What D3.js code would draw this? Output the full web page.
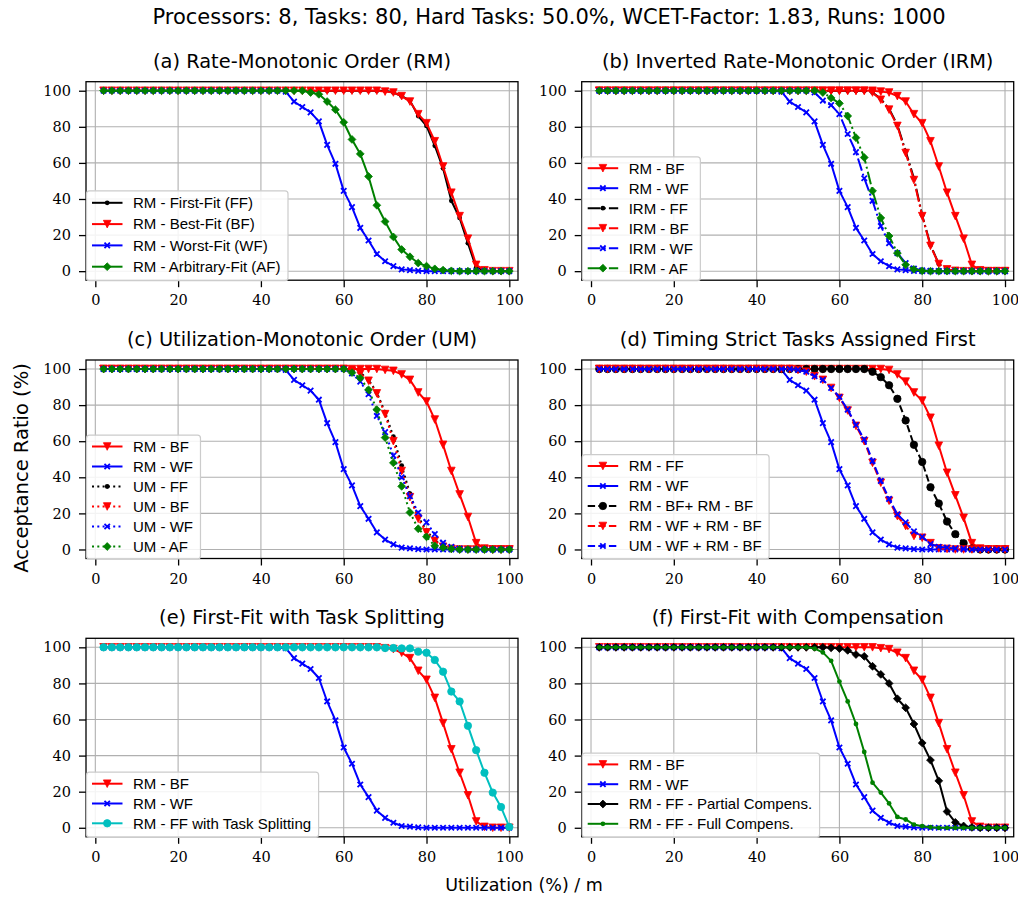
<!DOCTYPE html>
<html><head><meta charset="utf-8">
<script src="https://cdn.jsdelivr.net/npm/d3@7"></script>
<style>body{margin:0;background:#fff}svg{display:block}</style>
</head><body><div id="chart"></div>
<script>
// ---------- DATA ----------
const xs = [2,4,6,8,10,12,14,16,18,20,22,24,26,28,30,32,34,36,38,40,42,44,46,48,50,52,54,56,58,60,62,64,66,68,70,72,74,76,78,80,82,84,86,88,90,92,94,96,98,100];
const xTicks = [0,20,40,60,80,100];
const yTicks = [0,20,40,60,80,100];

const rmFF = [100,100,100,100,100,100,100,100,100,100, 100,100,100,100,100,100,100,100,100,100, 100,100,100,100,100,100,100,100,100,100, 100,100,100,100,100,99,97,94.5,86,80.5, 69.5,57,39,29.5,15.5,2,0.5,0,0,0];
const rmBF = [100,100,100,100,100,100,100,100,100,100, 100,100,100,100,100,100,100,100,100,100, 100,100,100,100,100,100,100,100,100,100, 100,100,100,100,99.5,99,97,94,87,82, 72,58,43.5,30.5,18,3.5,0.5,0,0,0];
const rmWF = [100,100,100,100,100,100,100,100,100,100, 100,100,100,100,100,100,100,100,100,100, 100,100,99.5,94,91,88,83,70,59.5,44.5, 35.5,24,17,9.5,5.5,2.8,1,0.6,0.2,0, 0,0,0,0,0,0,0,0,0,0];
const rmAF = [100,100,100,100,100,100,100,100,100,100, 100,100,100,100,100,100,100,100,100,100, 100,100,100,100,100,99,98,94,89.5,82.5, 73,65,52.5,36.5,27.5,19,12,8,4.5,2.8, 1.3,0.6,0.2,0,0,0,0,0,0,0];

const irmFF = [100,100,100,100,100,100,100,100,100,100, 100,100,100,100,100,100,100,100,100,100, 100,100,100,100,100,100,100,100,100,100, 100,100,100,99,95.5,90,81,66.5,51.5,31, 14.5,4,1,0.2,0,0,0,0,0,0];
const irmBF = [100,100,100,100,100,100,100,100,100,100, 100,100,100,100,100,100,100,100,100,100, 100,100,100,100,100,100,100,100,100,100, 100,100,100,99,95,89.5,80.5,65.5,50.5,30.5, 14,4,1,0.2,0,0,0,0,0,0];
const irmWF = [100,100,100,100,100,100,100,100,100,100, 100,100,100,100,100,100,100,100,100,100, 100,100,100,100,100,100,99,94.5,92,87, 76,66,51.5,39,25,15.5,10,4.5,1.5,0.5, 0.2,0,0,0,0,0,0,0,0,0];
const irmAF = [100,100,100,100,100,100,100,100,100,100, 100,100,100,100,100,100,100,100,100,100, 100,100,100,100,100,100,100,99,96,93, 86,74,63,44.5,29.5,19.5,10,3.5,1,0.2, 0,0,0,0,0,0,0,0,0,0];

const umFF = [100,100,100,100,100,100,100,100,100,100, 100,100,100,100,100,100,100,100,100,100, 100,100,100,100,100,100,100,100,100,100, 99,98,94,87,76,62.5,46.5,31,18,10.5, 5,2,0.5,0,0,0,0,0,0,0];
const umBF = [100,100,100,100,100,100,100,100,100,100, 100,100,100,100,100,100,100,100,100,100, 100,100,100,100,100,100,100,100,100,100, 99,97.5,93.5,86.5,75,60,43.5,29,17,9.5, 4.8,1.5,0.3,0,0,0,0,0,0,0];
const umWF = [100,100,100,100,100,100,100,100,100,100, 100,100,100,100,100,100,100,100,100,100, 100,100,100,100,100,100,100,100,100,100, 97.5,93,86,74,65,52,40,29.5,20.5,15, 8.5,3.7,1.5,0.5,0,0,0,0,0,0];
const umAF = [100,100,100,100,100,100,100,100,100,100, 100,100,100,100,100,100,100,100,100,100, 100,100,100,100,100,100,100,100,100,100, 98,95,88.5,77.5,62,48,35,20.5,11.5,7, 2,1,0.3,0,0,0,0,0,0,0];

const tsFF = [100,100,100,100,100,100,100,100,100,100, 100,100,100,100,100,100,100,100,100,100, 100,100,100,100,100,100,100,100,100,100, 100,100,100,100,100,99.5,97,93,87,82.5, 73,57.5,42.5,30,17.5,3.5,0.5,0,0,0];
const tsBFBF = [100,100,100,100,100,100,100,100,100,100, 100,100,100,100,100,100,100,100,100,100, 100,100,100,100,100,100,100,100,100,100, 100,100,100,98.5,95.5,91,83.5,71.5,58,48.5, 34.5,25.5,15.5,8.5,3.5,0.5,0,0,0,0];
const tsWFBF = [100,100,100,100,100,100,100,100,100,100, 100,100,100,100,100,100,100,100,100,100, 100,100,100,100,99.5,98.5,96,94,89.5,84, 77,68.5,60,48,37,27,18.5,13,7.5,6.5, 3.5,0.6,0.3,0,0,0,0,0,0,0];
const tsUMWFBF = [100,100,100,100,100,100,100,100,100,100, 100,100,100,100,100,100,100,100,100,100, 100,100,100,100,99.5,98.5,96,94,89.5,84.5, 77.5,69,61,49,38,28,19.5,15,10,7, 3,1.5,1,0.6,0.3,0,0,0,0,0];

const ffSplit = [100,100,100,100,100,100,100,100,100,100, 100,100,100,100,100,100,100,100,100,100, 100,100,100,100,100,100,100,100,100,100, 100,100,100,100,99.6,99.6,99.4,99.4,97.6,97, 93,86.5,75.5,70,56.5,43,30.5,19.5,11.5,0.5];
const ffPartial = [100,100,100,100,100,100,100,100,100,100, 100,100,100,100,100,100,100,100,100,100, 100,100,100,100,100,100,100,100,99.7,99.3, 98.3,96,95,89.5,85,80,71.5,66.5,57.5,47, 37.5,26,9,3,1,0.2,0,0,0,0];
const ffFull = [100,100,100,100,100,100,100,100,100,100, 100,100,100,100,100,100,100,100,100,100, 100,100,100,100,100,100,99.3,97.2,92.5,81, 70,57.5,42,25,19.5,13.5,6,4.6,1.8,0.9, 0.3,0,0,0,0,0,0,0,0,0];

const suptitle = "Processors: 8, Tasks: 80, Hard Tasks: 50.0%, WCET-Factor: 1.83, Runs: 1000";
const titles = ["(a) Rate-Monotonic Order (RM)","(b) Inverted Rate-Monotonic Order (IRM)","(c) Utilization-Monotonic Order (UM)","(d) Timing Strict Tasks Assigned First","(e) First-Fit with Task Splitting","(f) First-Fit with Compensation"];
const xLabel = "Utilization (%) / m";
const yLabel = "Acceptance Ratio (%)";

// ---------- STYLE / SERIES DEFINITIONS ----------
const R="#ff0000",B="#0000ff",K="#000000",G="#008000",C="#00bfbf";
const panels = [
  [ {l:"RM - First-Fit (FF)",d:rmFF,c:K,s:"-",m:"."},
    {l:"RM - Best-Fit (BF)",d:rmBF,c:R,s:"-",m:"v"},
    {l:"RM - Worst-Fit (WF)",d:rmWF,c:B,s:"-",m:"x"},
    {l:"RM - Arbitrary-Fit (AF)",d:rmAF,c:G,s:"-",m:"D"} ],
  [ {l:"RM - BF",d:rmBF,c:R,s:"-",m:"v"},
    {l:"RM - WF",d:rmWF,c:B,s:"-",m:"x"},
    {l:"IRM - FF",d:irmFF,c:K,s:"-.",m:"."},
    {l:"IRM - BF",d:irmBF,c:R,s:"-.",m:"v"},
    {l:"IRM - WF",d:irmWF,c:B,s:"-.",m:"x"},
    {l:"IRM - AF",d:irmAF,c:G,s:"-.",m:"D"} ],
  [ {l:"RM - BF",d:rmBF,c:R,s:"-",m:"v"},
    {l:"RM - WF",d:rmWF,c:B,s:"-",m:"x"},
    {l:"UM - FF",d:umFF,c:K,s:":",m:"."},
    {l:"UM - BF",d:umBF,c:R,s:":",m:"v"},
    {l:"UM - WF",d:umWF,c:B,s:":",m:"x"},
    {l:"UM - AF",d:umAF,c:G,s:":",m:"D"} ],
  [ {l:"RM - FF",d:tsFF,c:R,s:"-",m:"v"},
    {l:"RM - WF",d:rmWF,c:B,s:"-",m:"x"},
    {l:"RM - BF+ RM - BF",d:tsBFBF,c:K,s:"--",m:"o"},
    {l:"RM - WF + RM - BF",d:tsWFBF,c:R,s:"--",m:"v"},
    {l:"UM - WF + RM - BF",d:tsUMWFBF,c:B,s:"--",m:"x"} ],
  [ {l:"RM - BF",d:rmBF,c:R,s:"-",m:"v"},
    {l:"RM - WF",d:rmWF,c:B,s:"-",m:"x"},
    {l:"RM - FF with Task Splitting",d:ffSplit,c:C,s:"-",m:"o"} ],
  [ {l:"RM - BF",d:rmBF,c:R,s:"-",m:"v"},
    {l:"RM - WF",d:rmWF,c:B,s:"-",m:"x"},
    {l:"RM - FF - Partial Compens.",d:ffPartial,c:K,s:"-",m:"D"},
    {l:"RM - FF - Full Compens.",d:ffFull,c:G,s:"-",m:"."} ]
];
// legend row spacing / paddings per panel (rows with parentheses are taller)
const legRow=[21.3,20,20,20,19.8,19.8], legPadT=[12,11.3,11.3,11.3,11.5,11.3], legPadB=[14,12.5,12.5,13,14,13.5];

const W=1018,H=908;
const colL=[86,581.7], rowT=[81.7,360,638.3], PW=432, PH=198.5;
const LW=2;
const dashes={"-":null,"--":"7.4,3.2","-.":"12.8,3.2,2,3.2",":":"2,3.3"};
const TITLE_FONT="'DejaVu Sans', sans-serif";
const TICK_FONT="'DejaVu Serif', serif";
const LEG_FONT="'Liberation Sans', Arial, sans-serif";

const svg=d3.select("#chart").append("svg").attr("width",W).attr("height",H);

function marker(sel,m,c,cx,cy){
  if(m==="v"){const h=3.8;sel.append("path").attr("d",`M${cx-h},${cy-h}L${cx+h},${cy-h}L${cx},${cy+h}Z`).attr("fill",c).attr("stroke",c).attr("stroke-width",0.8);}
  else if(m==="x"){const h=2.7;sel.append("path").attr("d",`M${cx-h},${cy-h}L${cx+h},${cy+h}M${cx-h},${cy+h}L${cx+h},${cy-h}`).attr("stroke",c).attr("stroke-width",1.8).attr("fill","none");}
  else if(m==="D"){const h=3.9;sel.append("path").attr("d",`M${cx},${cy-h}L${cx+h},${cy}L${cx},${cy+h}L${cx-h},${cy}Z`).attr("fill",c).attr("stroke",c).attr("stroke-width",0.8);}
  else if(m==="."){sel.append("circle").attr("cx",cx).attr("cy",cy).attr("r",2.4).attr("fill",c);}
  else if(m==="o"){sel.append("circle").attr("cx",cx).attr("cy",cy).attr("r",3.7).attr("fill",c).attr("stroke",c).attr("stroke-width",0.8);}
}

svg.append("text").attr("x",549).attr("y",24).attr("text-anchor","middle")
  .style("font-family",TITLE_FONT).style("font-size","21px").text(suptitle);

panels.forEach((series,k)=>{
  const left=colL[k%2], top=rowT[Math.floor(k/2)];
  const x=d3.scaleLinear().domain([-2.25,102.1]).range([left,left+PW]);
  const y=d3.scaleLinear().domain([-5,105]).range([top+PH,top]);
  const g=svg.append("g");
  // grid
  g.append("g").selectAll("line").data(xTicks).join("line")
    .attr("x1",d=>x(d)).attr("x2",d=>x(d)).attr("y1",top).attr("y2",top+PH)
    .attr("stroke","#b0b0b0").attr("stroke-width",1.1);
  g.append("g").selectAll("line").data(yTicks).join("line")
    .attr("y1",d=>y(d)).attr("y2",d=>y(d)).attr("x1",left).attr("x2",left+PW)
    .attr("stroke","#b0b0b0").attr("stroke-width",1.1);
  // series
  series.forEach(s=>{
    const line=d3.line().x((d,i)=>x(xs[i])).y(d=>y(d));
    g.append("path").datum(s.d).attr("d",line).attr("fill","none")
      .attr("stroke",s.c).attr("stroke-width",LW).attr("stroke-dasharray",dashes[s.s])
      .attr("stroke-linejoin","round");
    const mg=g.append("g");
    s.d.forEach((v,i)=>marker(mg,s.m,s.c,x(xs[i]),y(v)));
  });
  // frame
  g.append("rect").attr("x",left).attr("y",top).attr("width",PW).attr("height",PH)
    .attr("fill","none").attr("stroke","#000").attr("stroke-width",1.3);
  // axes
  const ax=g.append("g").attr("transform",`translate(0,${top+PH})`)
    .call(d3.axisBottom(x).tickValues(xTicks).tickSize(7).tickPadding(8).tickFormat(d3.format("d")));
  const ay=g.append("g").attr("transform",`translate(${left},0)`)
    .call(d3.axisLeft(y).tickValues(yTicks).tickSize(7).tickPadding(8).tickFormat(d3.format("d")));
  [ax,ay].forEach(a=>{a.select(".domain").remove();
    a.selectAll(".tick line").attr("stroke","#000").attr("stroke-width",1.3);
    a.selectAll(".tick text").style("font-family",TICK_FONT).style("font-size","14.5px").attr("fill","#000");});
  // title
  g.append("text").attr("x",left+PW/2).attr("y",top-14).attr("text-anchor","middle")
    .style("font-family",TITLE_FONT).style("font-size","19.4px").text(titles[k]);
  // legend
  const sp=legRow[k], n=series.length;
  const lh=legPadT[k]+legPadB[k]+(n-1)*sp;
  const lx=left+0.5, ly=top+PH-lh+0.5;
  const lg=g.append("g");
  const box=lg.append("rect").attr("x",lx).attr("y",ly).attr("height",lh).attr("rx",3)
    .attr("fill","#fff").attr("fill-opacity",0.85).attr("stroke","#cccccc").attr("stroke-width",1.2);
  let maxW=0;
  series.forEach((s,i)=>{
    const cy=ly+legPadT[k]+i*sp;
    lg.append("line").attr("x1",lx+5.5).attr("x2",lx+36).attr("y1",cy).attr("y2",cy)
      .attr("stroke",s.c).attr("stroke-width",LW).attr("stroke-dasharray",dashes[s.s]);
    marker(lg,s.m,s.c,lx+20.7,cy);
    const t=lg.append("text").attr("x",lx+46.5).attr("y",cy+5.3).style("font-family",LEG_FONT)
      .style("font-size","15px").text(s.l);
    maxW=Math.max(maxW,t.node().getComputedTextLength());
  });
  box.attr("width",46+maxW+8);
});

svg.append("text").attr("x",524).attr("y",891).attr("text-anchor","middle")
  .style("font-family",TITLE_FONT).style("font-size","17.5px").text(xLabel);
svg.append("text").attr("transform","translate(28,468) rotate(-90)").attr("text-anchor","middle")
  .style("font-family",TITLE_FONT).style("font-size","19.5px").text(yLabel);
</script></body></html>
